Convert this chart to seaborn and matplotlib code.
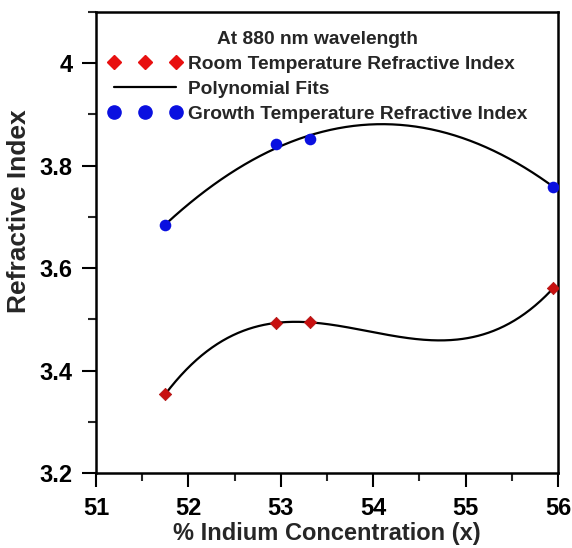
import numpy as np
import pandas as pd
import matplotlib
matplotlib.use("Agg")
import matplotlib.pyplot as plt
from matplotlib.lines import Line2D
from matplotlib.ticker import MultipleLocator
import seaborn as sns

# Data
indium = [51.75, 52.95, 53.32, 55.95]
room_n = [3.354, 3.493, 3.494, 3.561]
growth_n = [3.684, 3.842, 3.853, 3.759]

sns.set_theme(style="ticks")
plt.rcParams['font.family'] = ['Liberation Sans', 'DejaVu Sans']
plt.rcParams['font.weight'] = 'bold'

fig = plt.figure(figsize=(5.72, 5.48), dpi=100)
ax = fig.add_axes([0.168, 0.137, 0.8075, 0.841])

# polynomial fits
xs = np.linspace(min(indium), max(indium), 300)
fit_room = np.polyval(np.polyfit(indium, room_n, 3), xs)
fit_growth = np.polyval(np.polyfit(indium, growth_n, 2), xs)
sns.lineplot(x=xs, y=fit_room, ax=ax, color='black', lw=1.6)
sns.lineplot(x=xs, y=fit_growth, ax=ax, color='black', lw=1.6)

df_room = pd.DataFrame({'x': indium, 'y': room_n})
df_growth = pd.DataFrame({'x': indium, 'y': growth_n})
sns.scatterplot(data=df_room, x='x', y='y', ax=ax, marker='D', color='#c81010',
                s=40, edgecolor='#b01010', linewidth=0.5, zorder=3)
sns.scatterplot(data=df_growth, x='x', y='y', ax=ax, marker='o', color='#0a10e0',
                s=70, edgecolor='#0a10e0', linewidth=0, zorder=3)

ax.set_xlim(51, 56)
ax.set_ylim(3.2, 4.1)
ax.xaxis.set_major_locator(MultipleLocator(1))
ax.xaxis.set_minor_locator(MultipleLocator(0.5))
ax.yaxis.set_minor_locator(MultipleLocator(0.1))
ax.set_yticks([3.2, 3.4, 3.6, 3.8, 4.0])
ax.set_yticklabels(['3.2', '3.4', '3.6', '3.8', '4'])
ax.tick_params(axis='both', which='major', direction='out', length=10, width=1.5,
               labelsize=17, pad=7, colors='black')
ax.tick_params(axis='both', which='minor', direction='out', length=6, width=1.5)
for lab in ax.get_xticklabels() + ax.get_yticklabels():
    lab.set_fontweight('bold')
for sp in ax.spines.values():
    sp.set_linewidth(1.8)
    sp.set_color('black')
    sp.set_visible(True)

ax.set_xlabel('% Indium Concentration (x)', fontsize=17, fontweight='bold', labelpad=2)
ax.set_ylabel('Refractive Index', fontsize=19, fontweight='bold')
ax.yaxis.set_label_coords(-0.141, 0.568)

handles = [
    Line2D([0], [0], marker='D', color='none', markerfacecolor='#e81010',
           markeredgecolor='#e81010', markersize=7.5),
    Line2D([0], [0], color='black', lw=1.6),
    Line2D([0], [0], marker='o', color='none', markerfacecolor='#0a10e0',
           markeredgecolor='#0a10e0', markersize=9.5),
]
labels = ['Room Temperature Refractive Index', 'Polynomial Fits',
          'Growth Temperature Refractive Index']
leg = ax.legend(handles, labels, loc='upper left', bbox_to_anchor=(-0.011, 0.997),
                frameon=False, numpoints=3, handlelength=3.85, handletextpad=0.3,
                labelspacing=0.4, borderaxespad=0.5,
                title='At 880 nm wavelength',
                prop={'weight': 'bold', 'size': 13.8},
                title_fontproperties={'weight': 'bold', 'size': 13.8})

fig.savefig('out.png', dpi=100)
